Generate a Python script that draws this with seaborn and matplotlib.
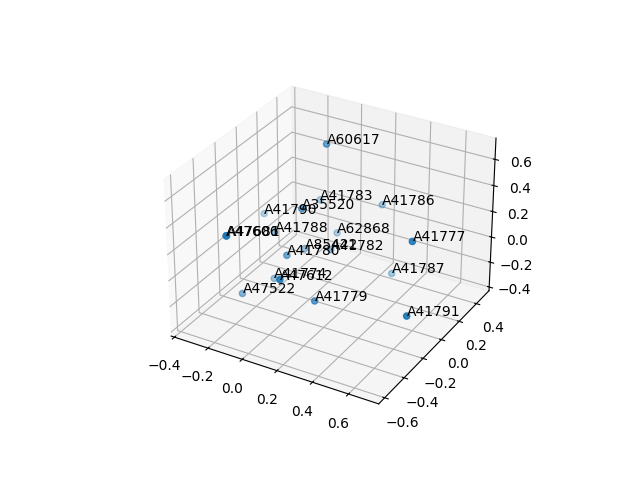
"""3D scatter of the labelled samples"""
import matplotlib
matplotlib.use('Agg')
import matplotlib.pyplot as plt
import seaborn as sns

labels = ['A60617', 'A41783', 'A41786', 'A41790', 'A35520', 'A41788', 'A62868',
          'A47606', 'A47681', 'A85422', 'A41782', 'A41780', 'A41777', 'A41774',
          'A47612', 'A41787', 'A47522', 'A41779', 'A41791']
xs = [0.011, -0.123, 0.182, -0.369, -0.019, -0.222, -0.004,
      -0.128, -0.127, -0.067, 0.085, -0.045, 0.614, -0.179,
      0.112, 0.321, -0.242, 0.174, 0.692]
ys = [0.165, 0.332, 0.448, 0.170, -0.035, 0.031, 0.301,
      -0.573, -0.572, 0.072, 0.076, -0.144, -0.047, -0.051,
      -0.474, 0.302, -0.262, -0.244, -0.244]
zs = [0.68, 0.1, 0.1, 0.0, 0.3, 0.0, -0.1,
      0.4, 0.4, -0.1, -0.05, 0.0, 0.3, -0.3,
      0.1, -0.3, -0.3, -0.2, -0.1]

color = sns.color_palette('tab10')[0]

fig = plt.figure(figsize=(6.4, 4.8), dpi=100)
ax = fig.add_subplot(projection='3d')
ax.scatter(xs, ys, zs, color=color)
for label, x, y, z in zip(labels, xs, ys, zs):
    ax.text(x, y, z, label)

ax.set_xlim(-0.42, 0.765)
ax.set_ylim(-0.66, 0.55)
ax.set_zlim(-0.43, 0.76)

fig.savefig('out.png', dpi=100)
